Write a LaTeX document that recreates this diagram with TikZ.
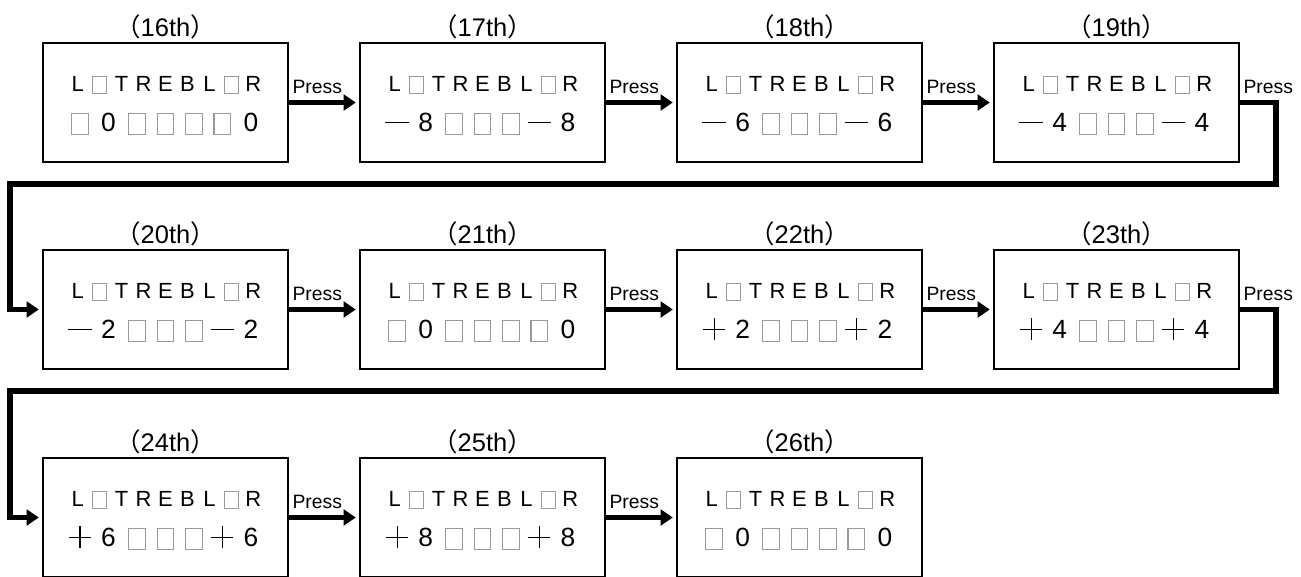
\documentclass[tikz,border=0pt]{standalone}
\usepackage{fontspec}
\setmainfont{Liberation Sans}
\newfontfamily\cjk{Noto Sans CJK JP}
\usetikzlibrary{positioning,arrows.meta}

% grey empty cells of the display
\newcommand\sqs{\raisebox{-1pt}{\textcolor{black!40}{\setlength\fboxsep{0pt}\setlength\fboxrule{0.6pt}\fbox{\rule{0pt}{9pt}\hspace{7.3pt}}}}}
\newcommand\sqb{\raisebox{-1.2pt}{\textcolor{black!40}{\setlength\fboxsep{0pt}\setlength\fboxrule{0.6pt}\fbox{\rule{0pt}{11.6pt}\hspace{9pt}}}}}
\newcommand\mn{\rule[5pt]{13.5pt}{0.7pt}}
\newcommand\pl{\makebox[12.5pt]{\rlap{\rule[5pt]{12.5pt}{0.7pt}}\hspace{5.9pt}\rule[-0.9pt]{0.7pt}{12.5pt}\hspace{5.9pt}}}
\newcommand\ca[1]{\makebox[12.5pt]{#1}}
\newcommand\cb[1]{\makebox[16.2pt]{#1}}
\newcommand\toprow{\rule{0pt}{12pt}\ca{L}\ca{\sqs}\ca{T}\ca{R}\ca{E}\ca{B}\ca{L}\ca{\sqs}\ca{R}}
\newcommand\botrow[7]{{\fontsize{15}{23.2}\selectfont\cb{#1}\cb{#2}\cb{#3}\cb{#4}\cb{#5}\cb{#6}\cb{#7}}}
\newcommand\lbl[1]{{\cjk （}#1th{\cjk ）}}

\begin{document}
\begin{tikzpicture}[x=0.02cm,y=-0.02cm,
  dispbox/.style={draw,line width=0.8pt,minimum width=4.9cm,minimum height=2.38cm,align=center,inner sep=0pt,font=\fontsize{12.5}{23.2}\selectfont},
  numlbl/.style={font=\fontsize{14.5}{16}\selectfont,inner sep=1pt},
  presslbl/.style={font=\fontsize{11}{13}\selectfont,inner sep=0pt},
  flow/.style={line width=3.2pt,-{Triangle[length=7pt,width=9pt]},shorten >=2pt}]
\useasboundingbox (0,0) rectangle (1301,576);
\clip (0,0) rectangle (1301,576);

% first row
\node[dispbox] (b16) at (165.5,102.5) {\toprow\\\botrow{\sqb}{0}{\sqb}{\sqb}{\sqb}{\sqb}{0}};
\node[dispbox] (b17) at (482.5,102.5) {\toprow\\\botrow{\mn}{8}{\sqb}{\sqb}{\sqb}{\mn}{8}};
\node[dispbox] (b18) at (799.5,102.5) {\toprow\\\botrow{\mn}{6}{\sqb}{\sqb}{\sqb}{\mn}{6}};
\node[dispbox] (b19) at (1116.5,102.5) {\toprow\\\botrow{\mn}{4}{\sqb}{\sqb}{\sqb}{\mn}{4}};

% second row
\node[dispbox] (b20) at (165.5,309.5) {\toprow\\\botrow{\mn}{2}{\sqb}{\sqb}{\sqb}{\mn}{2}};
\node[dispbox] (b21) at (482.5,309.5) {\toprow\\\botrow{\sqb}{0}{\sqb}{\sqb}{\sqb}{\sqb}{0}};
\node[dispbox] (b22) at (799.5,309.5) {\toprow\\\botrow{\pl}{2}{\sqb}{\sqb}{\sqb}{\pl}{2}};
\node[dispbox] (b23) at (1116.5,309.5) {\toprow\\\botrow{\pl}{4}{\sqb}{\sqb}{\sqb}{\pl}{4}};

% third row
\node[dispbox] (b24) at (165.5,517.5) {\toprow\\\botrow{\pl}{6}{\sqb}{\sqb}{\sqb}{\pl}{6}};
\node[dispbox] (b25) at (482.5,517.5) {\toprow\\\botrow{\pl}{8}{\sqb}{\sqb}{\sqb}{\pl}{8}};
\node[dispbox] (b26) at (799.5,517.5) {\toprow\\\botrow{\sqb}{0}{\sqb}{\sqb}{\sqb}{\sqb}{0}};

\node[numlbl,above=1pt of b16] (l16) {\lbl{16}};
\node[numlbl,above=1pt of b17] (l17) {\lbl{17}};
\node[numlbl,above=1pt of b18] (l18) {\lbl{18}};
\node[numlbl,above=1pt of b19] (l19) {\lbl{19}};
\node[numlbl,above=1pt of b20] (l20) {\lbl{20}};
\node[numlbl,above=1pt of b21] (l21) {\lbl{21}};
\node[numlbl,above=1pt of b22] (l22) {\lbl{22}};
\node[numlbl,above=1pt of b23] (l23) {\lbl{23}};
\node[numlbl,above=1pt of b24] (l24) {\lbl{24}};
\node[numlbl,above=1pt of b25] (l25) {\lbl{25}};
\node[numlbl,above=1pt of b26] (l26) {\lbl{26}};

\node[presslbl,above right=5pt and 2pt of b16.east] (p16) {Press};
\node[presslbl,above right=5pt and 2pt of b17.east] (p17) {Press};
\node[presslbl,above right=5pt and 2pt of b18.east] (p18) {Press};
\node[presslbl,above right=5pt and 2pt of b19.east] (p19) {Press};
\node[presslbl,above right=5pt and 2pt of b20.east] (p20) {Press};
\node[presslbl,above right=5pt and 2pt of b21.east] (p21) {Press};
\node[presslbl,above right=5pt and 2pt of b22.east] (p22) {Press};
\node[presslbl,above right=5pt and 2pt of b23.east] (p23) {Press};
\node[presslbl,above right=5pt and 2pt of b24.east] (p24) {Press};
\node[presslbl,above right=5pt and 2pt of b25.east] (p25) {Press};

\coordinate (r1) at (1276,184);
\coordinate (l1) at (10,184);
\coordinate (r2) at (1276,391);
\coordinate (l2) at (10,391);

\draw[flow] (b16) -- (b17);
\draw[flow] (b17) -- (b18);
\draw[flow] (b18) -- (b19);
\draw[flow] (b19.east) -| (r1) -- (l1) |- (b20.west);
\draw[flow] (b20) -- (b21);
\draw[flow] (b21) -- (b22);
\draw[flow] (b22) -- (b23);
\draw[flow] (b23.east) -| (r2) -- (l2) |- (b24.west);
\draw[flow] (b24) -- (b25);
\draw[flow] (b25) -- (b26);
\end{tikzpicture}
\end{document}
